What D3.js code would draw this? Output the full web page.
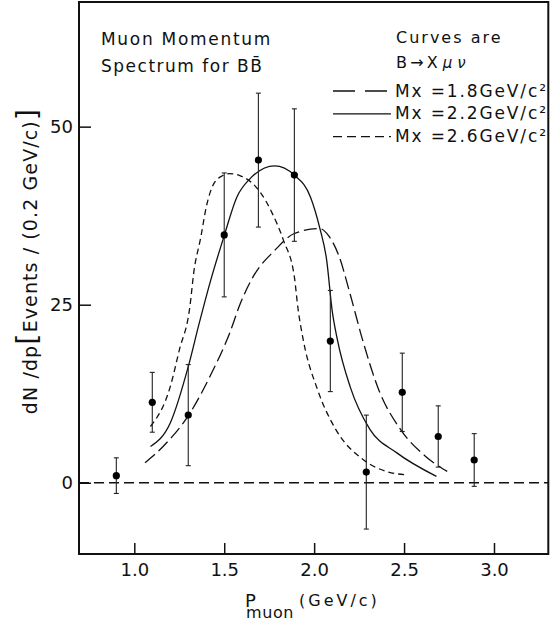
<!DOCTYPE html>
<html lang="en">
<head>
<meta charset="UTF-8">
<title>Muon Momentum Spectrum for BB</title>
<script src="https://d3js.org/d3.v7.min.js"></script>
<style>
  body { margin: 0; background: #fff; }
  svg { display: block; font-family: "DejaVu Sans", sans-serif; }
  text { fill: #111; }
</style>
</head>
<body>
<svg id="chart" width="550" height="620"></svg>
<script>
// measured points (momentum, events, error)
const pBins = [0.90, 1.10, 1.30, 1.50, 1.69, 1.89, 2.09, 2.29, 2.49, 2.69, 2.89];
const events = [1.0, 11.3, 9.5, 34.8, 45.3, 43.2, 19.9, 1.5, 12.7, 6.5, 3.2];
const errors = [2.5, 4.2, 7.1, 8.7, 9.4, 9.3, 7.1, 8.0, 5.5, 4.3, 3.7];

// model curves B -> X mu nu
const mx18P = [1.06, 1.16, 1.31, 1.42, 1.53, 1.59, 1.66, 1.78, 1.89, 2.03, 2.08, 2.14, 2.20, 2.27, 2.36, 2.48, 2.62, 2.74];
const mx18V = [2.8, 5.1, 9.8, 14.9, 21.0, 25.2, 28.9, 32.6, 35.0, 35.7, 34.7, 31.7, 26.5, 20.0, 13.0, 7.5, 3.7, 1.6];
const mx22P = [1.09, 1.20, 1.30, 1.36, 1.42, 1.50, 1.57, 1.64, 1.78, 1.89, 1.98, 2.03, 2.07, 2.10, 2.13, 2.20, 2.31, 2.46, 2.68];
const mx22V = [5.1, 8.4, 16.3, 22.3, 28.0, 34.7, 40.1, 42.6, 44.5, 43.2, 40.1, 35.9, 31.2, 24.2, 20.0, 13.5, 7.5, 4.2, 0.9];
const mx26P = [1.09, 1.20, 1.25, 1.31, 1.33, 1.37, 1.40, 1.44, 1.49, 1.53, 1.59, 1.65, 1.70, 1.76, 1.83, 1.89, 1.91, 1.94, 2.02, 2.12, 2.27, 2.40, 2.52];
const mx26V = [7.9, 13.5, 18.6, 24.9, 29.4, 34.5, 38.7, 41.9, 43.1, 43.4, 43.1, 42.2, 40.8, 38.2, 34.0, 28.9, 24.5, 20.0, 13.0, 7.5, 3.3, 1.6, 1.1];

const curveNames = ["Mx =1.8GeV/c\u00b2", "Mx =2.2GeV/c\u00b2", "Mx =2.6GeV/c\u00b2"];
const xTicks = [1.0, 1.5, 2.0, 2.5, 3.0];
const yTicks = [0, 25, 50];

const margin = { top: 2, right: 1.7, bottom: 66, left: 79 };
const width = 550 - margin.left - margin.right;
const height = 620 - margin.top - margin.bottom;

const svg = d3.select("#chart");
const g = svg.append("g")
    .attr("transform", `translate(${margin.left},${margin.top})`);

const x = d3.scaleLinear().domain([0.6925, 3.302]).range([0, width]);
const y = d3.scaleLinear().domain([-10, 67.5]).range([height, 0]);

// axes, ticks pointing inward
const xAxis = g.append("g")
    .attr("transform", `translate(0,${height})`)
    .call(d3.axisBottom(x).tickValues(xTicks).tickSize(-11).tickPadding(9).tickFormat(d3.format(".1f")));
const yAxis = g.append("g")
    .call(d3.axisLeft(y).tickValues(yTicks).tickSize(-12).tickPadding(6));
[xAxis, yAxis].forEach(a => {
    a.select(".domain").remove();
    a.selectAll(".tick line").attr("stroke", "#111").attr("stroke-width", 1.5);
    a.selectAll(".tick text").style("font-size", "18px").attr("fill", "#111")
        .style("font-family", "DejaVu Sans, sans-serif");
});

// frame
g.append("rect")
    .attr("width", width).attr("height", height)
    .attr("fill", "none").attr("stroke", "#111").attr("stroke-width", 2);

// zero line
g.append("line")
    .attr("x1", 0).attr("x2", width)
    .attr("y1", y(0)).attr("y2", y(0))
    .attr("stroke", "#111").attr("stroke-width", 1.4)
    .attr("stroke-dasharray", "10,5");

// curves
const curves = [
    { p: mx18P, v: mx18V, dash: "13,5" },
    { p: mx22P, v: mx22V, dash: null },
    { p: mx26P, v: mx26V, dash: "6,4" }
];
const line = d3.line()
    .x(d => x(d[0]))
    .y(d => y(d[1]))
    .curve(d3.curveMonotoneX);
curves.forEach(c => {
    g.append("path")
        .datum(c.p.map((p, i) => [p, c.v[i]]))
        .attr("d", line)
        .attr("fill", "none")
        .attr("stroke", "#111")
        .attr("stroke-width", 1.3)
        .attr("stroke-dasharray", c.dash);
});

// data with error bars
const pts = pBins.map((p, i) => ({ p, v: events[i], e: errors[i] }));
const bars = g.selectAll(".err").data(pts).enter().append("g").attr("class", "err");
bars.append("line")
    .attr("x1", d => x(d.p)).attr("x2", d => x(d.p))
    .attr("y1", d => y(d.v - d.e)).attr("y2", d => y(d.v + d.e))
    .attr("stroke", "#222").attr("stroke-width", 1.1);
["lo", "hi"].forEach(k => {
    bars.append("line")
        .attr("x1", d => x(d.p) - 2.5).attr("x2", d => x(d.p) + 2.5)
        .attr("y1", d => y(k === "lo" ? d.v - d.e : d.v + d.e))
        .attr("y2", d => y(k === "lo" ? d.v - d.e : d.v + d.e))
        .attr("stroke", "#222").attr("stroke-width", 1.1);
});
bars.append("circle")
    .attr("cx", d => x(d.p)).attr("cy", d => y(d.v))
    .attr("r", 3.6).attr("fill", "#000");

// title block, top left
svg.append("text").attr("x", 101).attr("y", 45)
    .style("font-size", "17px").style("letter-spacing", "1.7px")
    .text("Muon  Momentum");
svg.append("text").attr("x", 101).attr("y", 72)
    .style("font-size", "17px").style("letter-spacing", "1.5px")
    .text("Spectrum for BB\u0304");

// legend, top right
svg.append("text").attr("x", 396).attr("y", 43)
    .style("font-size", "16px").style("letter-spacing", "2px")
    .text("Curves are");
const bx = svg.append("text").attr("x", 396).attr("y", 68)
    .style("font-size", "16px");
bx.append("tspan").text("B\u2009\u2192\u2009X ");
bx.append("tspan").style("font-style", "italic").style("font-size", "15px").text("\u03bc \u03bd");

const leg = svg.append("g").attr("transform", "translate(333,91)");
curves.forEach((c, i) => {
    leg.append("line")
        .attr("x1", 0).attr("x2", 58)
        .attr("y1", i * 22.8).attr("y2", i * 22.8)
        .attr("stroke", "#111").attr("stroke-width", 1.3)
        .attr("stroke-dasharray", i === 0 ? "22,10" : i === 2 ? "9,5" : null);
    leg.append("text")
        .attr("x", 62).attr("y", i * 22.8 + 5.5)
        .style("font-size", "17px")
        .attr("textLength", 151).attr("lengthAdjust", "spacing")
        .text(curveNames[i]);
});

// x axis title: P with "muon" underneath, then (GeV/c)
const xt = svg.append("text").attr("x", 245).attr("y", 607).style("font-size", "18px");
xt.append("tspan").text("P");
xt.append("tspan").attr("x", 246).attr("dy", 10.5)
    .style("font-size", "16px").style("letter-spacing", "0.6px").text("muon");
xt.append("tspan").attr("x", 299).attr("dy", -12)
    .style("font-size", "16px").style("letter-spacing", "3px").text("(GeV/c)");

const yTitle = svg.append("text")
    .attr("transform", "translate(37,261) rotate(-90)")
    .attr("text-anchor", "middle")
    .style("font-size", "19px")
    .style("letter-spacing", "1.1px");
yTitle.append("tspan").text("dN /dp");
yTitle.append("tspan").style("font-size", "29px").text("[");
yTitle.append("tspan").text("Events / (0.2 GeV/c)");
yTitle.append("tspan").style("font-size", "29px").text("]");
</script>
</body>
</html>
